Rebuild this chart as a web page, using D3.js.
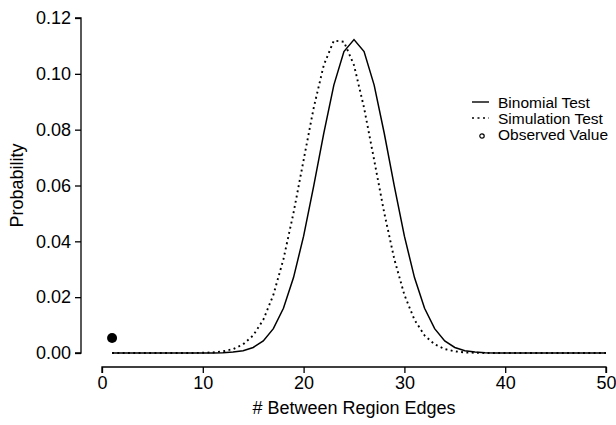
<!DOCTYPE html>
<html>
<head>
<meta charset="utf-8">
<script src="https://cdn.jsdelivr.net/npm/d3@7"></script>
<style>
  body { margin: 0; background: #fff; }
  svg text { font-family: "Liberation Sans", Arial, Helvetica, sans-serif; fill: #000; }
</style>
</head>
<body>
<svg id="chart" width="616" height="425"></svg>
<script>
// values, k = 1..50
var edges = d3.range(1, 51);
var binomial = [0, 0, 0, 0, 0, 0, 0, 0, 0, 0.00001,
  0.00003, 0.00011, 0.00032, 0.00083, 0.00199, 0.00434, 0.00871, 0.01602, 0.02701, 0.04186,
  0.05980, 0.07871, 0.09596, 0.10796, 0.11227, 0.10796, 0.09596, 0.07871, 0.05980, 0.04186,
  0.02701, 0.01602, 0.00871, 0.00434, 0.00199, 0.00083, 0.00032, 0.00011, 0.00003, 0.00001,
  0, 0, 0, 0, 0, 0, 0, 0, 0, 0];
var simulation = [0, 0, 0, 0, 0, 0, 0, 0, 0, 0.0001,
  0.0002, 0.0006, 0.0014, 0.0031, 0.0063, 0.0119, 0.0208, 0.0336, 0.0502, 0.0691,
  0.0878, 0.1031, 0.1119, 0.1115, 0.1031, 0.0878, 0.0691, 0.0502, 0.0336, 0.0208,
  0.0119, 0.0063, 0.0031, 0.0014, 0.0006, 0.0002, 0.0001, 0, 0, 0,
  0, 0, 0, 0, 0, 0, 0, 0, 0, 0];
var observed = [{x: 1, y: 0.0054}];
var xTicks = [0, 10, 20, 30, 40, 50];
var yTicks = [0, 0.02, 0.04, 0.06, 0.08, 0.10, 0.12];
var legendLabels = ["Binomial Test", "Simulation Test", "Observed Value"];

var svg = d3.select("#chart");
var x = d3.scaleLinear().domain([0, 50]).range([102, 606]);
var y = d3.scaleLinear().domain([0, 0.12]).range([353, 18]);

// axes, detached from the plot like base R
var xAxis = svg.append("g").attr("transform", "translate(0,367)")
  .call(d3.axisBottom(x).tickValues(xTicks).tickSize(6).tickPadding(3).tickFormat(d3.format("d")));
var yAxis = svg.append("g").attr("transform", "translate(81,0)")
  .call(d3.axisLeft(y).tickValues(yTicks).tickSize(6).tickPadding(4).tickFormat(d3.format(".2f")));
svg.selectAll(".domain, .tick line").attr("stroke", "#000").attr("stroke-width", 1.3);
xAxis.select(".domain").attr("d", "M" + x(0) + ",6V0H" + x(50) + "V6");
yAxis.select(".domain").attr("d", "M-6," + y(0) + "H0V" + y(0.12) + "H-6");
svg.selectAll(".tick text").style("font-size", "18px").attr("fill", "#000");

svg.append("text").attr("x", (x(0) + x(50)) / 2).attr("y", 414)
  .attr("text-anchor", "middle").style("font-size", "18px").text("# Between Region Edges");
svg.append("text").attr("transform", "translate(23," + y(0.06) + ") rotate(-90)")
  .attr("text-anchor", "middle").style("font-size", "18px").text("Probability");

var line = d3.line().x(function(d, i) { return x(edges[i]); }).y(function(d) { return y(d); });

svg.append("path").datum(binomial).attr("d", line)
  .attr("fill", "none").attr("stroke", "#000").attr("stroke-width", 1.5);
svg.append("path").datum(simulation).attr("d", line)
  .attr("fill", "none").attr("stroke", "#000").attr("stroke-width", 1.9)
  .attr("stroke-dasharray", "1.9,3.4");

svg.selectAll("circle.obs").data(observed).enter().append("circle").attr("class", "obs")
  .attr("cx", function(d) { return x(d.x); }).attr("cy", function(d) { return y(d.y); })
  .attr("r", 5).attr("fill", "#000");

// legend
var legend = svg.append("g").attr("transform", "translate(472,102)");
legendLabels.forEach(function(lab, i) {
  var row = legend.append("g").attr("transform", "translate(0," + (i * 16) + ")");
  if (i == 0) row.append("line").attr("x1", 0).attr("x2", 17).attr("stroke", "#000").attr("stroke-width", 1.4);
  if (i == 1) row.append("line").attr("x1", 0).attr("x2", 17).attr("stroke", "#000").attr("stroke-width", 1.4).attr("stroke-dasharray", "2,3.5");
  if (i == 2) row.append("circle").attr("cx", 10).attr("cy", 2).attr("r", 2.2).attr("fill", "none").attr("stroke", "#000").attr("stroke-width", 1.2);
  row.append("text").attr("x", 26).attr("y", 5.5).style("font-size", "15.5px").text(lab);
});
</script>
</body>
</html>
